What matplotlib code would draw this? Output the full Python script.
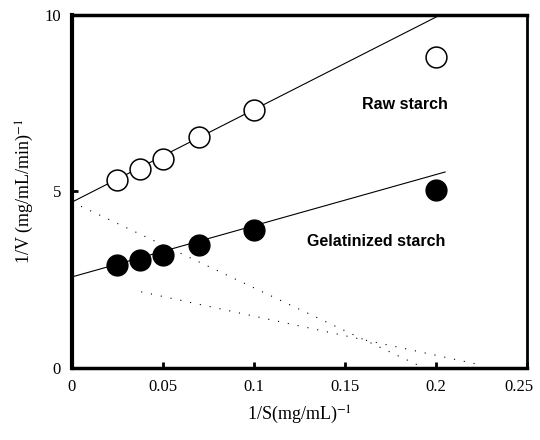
import matplotlib
matplotlib.use("Agg")
import matplotlib.pyplot as plt
import matplotlib.transforms as mtransforms
import numpy as np

# Lineweaver-Burk data
inv_s = [0.025, 0.0375, 0.05, 0.07, 0.1, 0.2]
raw_inv_v = [5.33, 5.64, 5.92, 6.55, 7.31, 8.81]
gel_inv_v = [2.92, 3.06, 3.20, 3.48, 3.90, 5.04]

# fitted lines (intercept, slope, x range)
raw_fit = (4.70, 26.2, [0.0, 0.201])
gel_fit = (2.58, 14.5, [0.0, 0.205])
# dotted guide lines
raw_dot = (4.70, -24.3, [0.005, 0.19])
gel_dot = (2.58, -11.1, [0.038, 0.225])

x_ticks = [0, 0.05, 0.1, 0.15, 0.2, 0.25]
x_tick_labels = ["0", "0.05", "0.1", "0.15", "0.2", "0.25"]
y_ticks = [0, 5, 10]

plt.rcParams['font.family'] = ['Liberation Serif', 'DejaVu Serif']
plt.rcParams['mathtext.fontset'] = 'stix'

fig = plt.figure(figsize=(5.4, 4.4), dpi=100)
ax = fig.add_axes([0.1333, 0.1636, 0.8427, 0.8024])

for b, m, xr in [raw_fit, gel_fit]:
    xs = np.array(xr)
    ax.plot(xs, b + m * xs, color="black", lw=0.8)

for b, m, xr in [raw_dot, gel_dot]:
    xs = np.array(xr)
    ax.plot(xs, b + m * xs, color="black", lw=0.8, ls=(0, (1, 8)))

ax.plot(inv_s, raw_inv_v, "o", ms=15, mfc="white", mec="black", mew=1.1, ls="none")
ax.plot(inv_s, gel_inv_v, "o", ms=15, mfc="black", mec="black", ls="none")

ax.text(0.183, 7.45, "Raw starch", family="Liberation Sans", weight="bold",
        fontsize=11.5, ha="center", va="center")
ax.text(0.167, 3.57, "Gelatinized starch", family="Liberation Sans", weight="bold",
        fontsize=11.5, ha="center", va="center")

ax.set_xlim(0, 0.25)
ax.set_ylim(0, 10)
ax.set_xticks(x_ticks)
ax.set_xticklabels(x_tick_labels)
ax.set_yticks(y_ticks)
ax.tick_params(direction="in", length=4, width=2, labelsize=12, pad=8)

# last x label sits a bit left in the original so it stays in the frame
last = ax.get_xticklabels()[-1]
last.set_transform(last.get_transform() +
                   mtransforms.ScaledTranslation(-8 / 100, 0, fig.dpi_scale_trans))

ax.spines["left"].set_linewidth(3)
ax.spines["bottom"].set_linewidth(2.5)
ax.spines["top"].set_linewidth(2.5)
ax.spines["right"].set_linewidth(2)

ax.set_xlabel(r"1/S(mg/mL)$^{-1}$", fontsize=13, labelpad=6)
ax.set_ylabel(r"1/V (mg/mL/min)$^{-1}$", fontsize=13, labelpad=6)

fig.savefig("out.png", dpi=100)
plt.close(fig)
